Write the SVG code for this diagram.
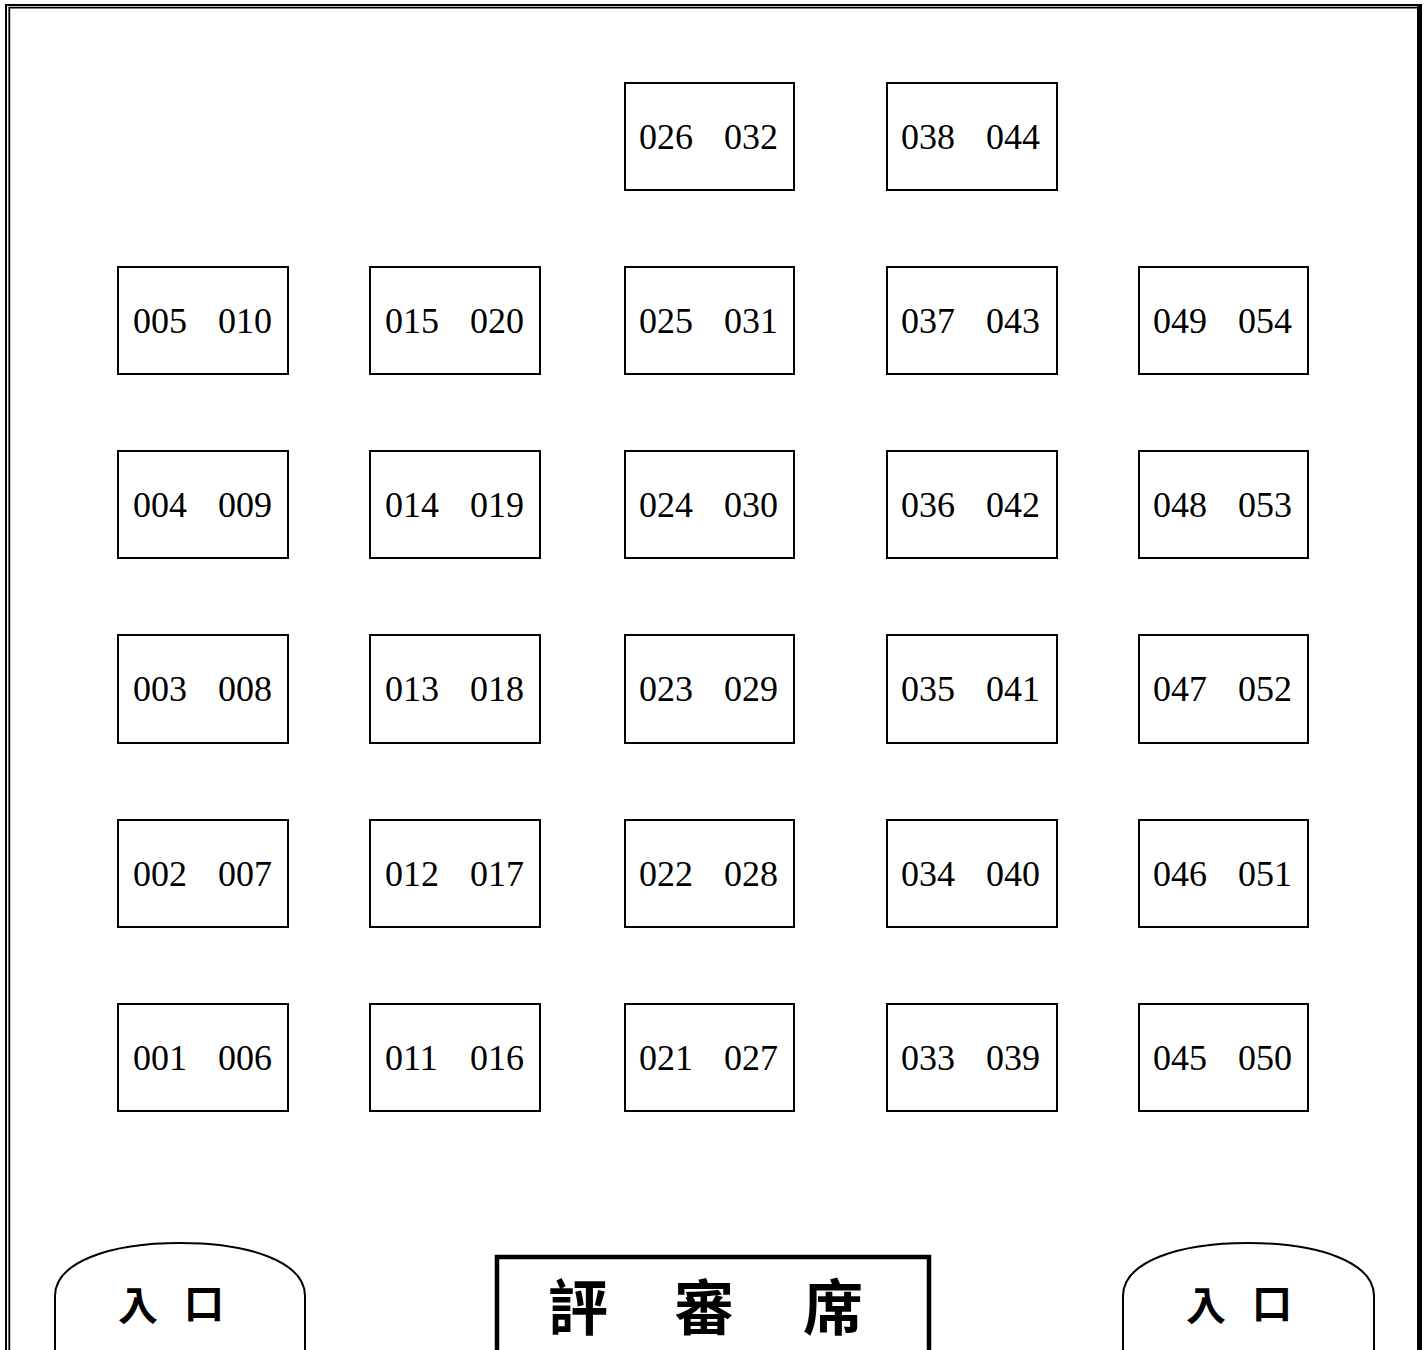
<svg xmlns="http://www.w3.org/2000/svg" width="1428" height="1350" viewBox="0 0 1428 1350">
<style>
.box{fill:#fff;stroke:#000;stroke-width:2}
.num{font-family:"Liberation Serif","Times New Roman",serif;font-size:36px;fill:#000}
.ent{fill:#fff;stroke:#000;stroke-width:2}
.entt{font-family:"Noto Sans CJK TC","Noto Sans CJK SC",sans-serif;font-weight:bold;font-size:40px;fill:#000}
.judge{font-family:"Noto Sans CJK TC","Noto Sans CJK SC",sans-serif;font-weight:bold;font-size:60px;fill:#000}
</style>
<rect width="1428" height="1350" fill="#fff"/>
<g id="border" fill="none" stroke="#000">
<path d="M6,1360 V5 H1422" stroke-width="2"/>
<path d="M9.3,1360 V7.6 H1418" stroke-width="1.8"/>
<path d="M1419.5,4 V1360" stroke-width="5"/>
</g>
<g id="connectors"></g>
<g id="seats">
<g id="s026"><rect class="box" x="625" y="83" width="169" height="107"/><text class="num" x="639" y="149">026</text><text class="num" x="724" y="149">032</text></g>
<g id="s038"><rect class="box" x="887" y="83" width="170" height="107"/><text class="num" x="901" y="149">038</text><text class="num" x="986" y="149">044</text></g>

<g id="s005"><rect class="box" x="118" y="267" width="170" height="107"/><text class="num" x="133" y="333">005</text><text class="num" x="218" y="333">010</text></g>
<g id="s015"><rect class="box" x="370" y="267" width="170" height="107"/><text class="num" x="385" y="333">015</text><text class="num" x="470" y="333">020</text></g>
<g id="s025"><rect class="box" x="625" y="267" width="169" height="107"/><text class="num" x="639" y="333">025</text><text class="num" x="724" y="333">031</text></g>
<g id="s037"><rect class="box" x="887" y="267" width="170" height="107"/><text class="num" x="901" y="333">037</text><text class="num" x="986" y="333">043</text></g>
<g id="s049"><rect class="box" x="1139" y="267" width="169" height="107"/><text class="num" x="1153" y="333">049</text><text class="num" x="1238" y="333">054</text></g>

<g id="s004"><rect class="box" x="118" y="451" width="170" height="107"/><text class="num" x="133" y="517">004</text><text class="num" x="218" y="517">009</text></g>
<g id="s014"><rect class="box" x="370" y="451" width="170" height="107"/><text class="num" x="385" y="517">014</text><text class="num" x="470" y="517">019</text></g>
<g id="s024"><rect class="box" x="625" y="451" width="169" height="107"/><text class="num" x="639" y="517">024</text><text class="num" x="724" y="517">030</text></g>
<g id="s036"><rect class="box" x="887" y="451" width="170" height="107"/><text class="num" x="901" y="517">036</text><text class="num" x="986" y="517">042</text></g>
<g id="s048"><rect class="box" x="1139" y="451" width="169" height="107"/><text class="num" x="1153" y="517">048</text><text class="num" x="1238" y="517">053</text></g>

<g id="s003"><rect class="box" x="118" y="635" width="170" height="108"/><text class="num" x="133" y="701">003</text><text class="num" x="218" y="701">008</text></g>
<g id="s013"><rect class="box" x="370" y="635" width="170" height="108"/><text class="num" x="385" y="701">013</text><text class="num" x="470" y="701">018</text></g>
<g id="s023"><rect class="box" x="625" y="635" width="169" height="108"/><text class="num" x="639" y="701">023</text><text class="num" x="724" y="701">029</text></g>
<g id="s035"><rect class="box" x="887" y="635" width="170" height="108"/><text class="num" x="901" y="701">035</text><text class="num" x="986" y="701">041</text></g>
<g id="s047"><rect class="box" x="1139" y="635" width="169" height="108"/><text class="num" x="1153" y="701">047</text><text class="num" x="1238" y="701">052</text></g>

<g id="s002"><rect class="box" x="118" y="820" width="170" height="107"/><text class="num" x="133" y="886">002</text><text class="num" x="218" y="886">007</text></g>
<g id="s012"><rect class="box" x="370" y="820" width="170" height="107"/><text class="num" x="385" y="886">012</text><text class="num" x="470" y="886">017</text></g>
<g id="s022"><rect class="box" x="625" y="820" width="169" height="107"/><text class="num" x="639" y="886">022</text><text class="num" x="724" y="886">028</text></g>
<g id="s034"><rect class="box" x="887" y="820" width="170" height="107"/><text class="num" x="901" y="886">034</text><text class="num" x="986" y="886">040</text></g>
<g id="s046"><rect class="box" x="1139" y="820" width="169" height="107"/><text class="num" x="1153" y="886">046</text><text class="num" x="1238" y="886">051</text></g>

<g id="s001"><rect class="box" x="118" y="1004" width="170" height="107"/><text class="num" x="133" y="1070">001</text><text class="num" x="218" y="1070">006</text></g>
<g id="s011"><rect class="box" x="370" y="1004" width="170" height="107"/><text class="num" x="385" y="1070">011</text><text class="num" x="470" y="1070">016</text></g>
<g id="s021"><rect class="box" x="625" y="1004" width="169" height="107"/><text class="num" x="639" y="1070">021</text><text class="num" x="724" y="1070">027</text></g>
<g id="s033"><rect class="box" x="887" y="1004" width="170" height="107"/><text class="num" x="901" y="1070">033</text><text class="num" x="986" y="1070">039</text></g>
<g id="s045"><rect class="box" x="1139" y="1004" width="169" height="107"/><text class="num" x="1153" y="1070">045</text><text class="num" x="1238" y="1070">050</text></g>
</g>
<g id="entrance-left">
<path class="ent" d="M55,1360 V1296 C55,1262 110,1243 180,1243 C250,1243 305,1262 305,1296 V1360"/>
<text class="entt" x="118" y="1320">入</text><text class="entt" x="184" y="1318" font-size="36">口</text>
</g>
<g id="entrance-right">
<path class="ent" d="M1123,1360 V1296 C1123,1262 1178,1243 1248,1243 C1318,1243 1374,1262 1374,1296 V1360"/>
<text class="entt" x="1186" y="1320">入</text><text class="entt" x="1252" y="1318" font-size="36">口</text>
</g>
<g id="judges">
<rect x="497" y="1257" width="432" height="110" fill="#fff" stroke="#000" stroke-width="4.5"/>
<text class="judge" x="548" y="1330">評</text><text class="judge" x="674" y="1330">審</text><text class="judge" x="803" y="1330">席</text>
</g>
</svg>
